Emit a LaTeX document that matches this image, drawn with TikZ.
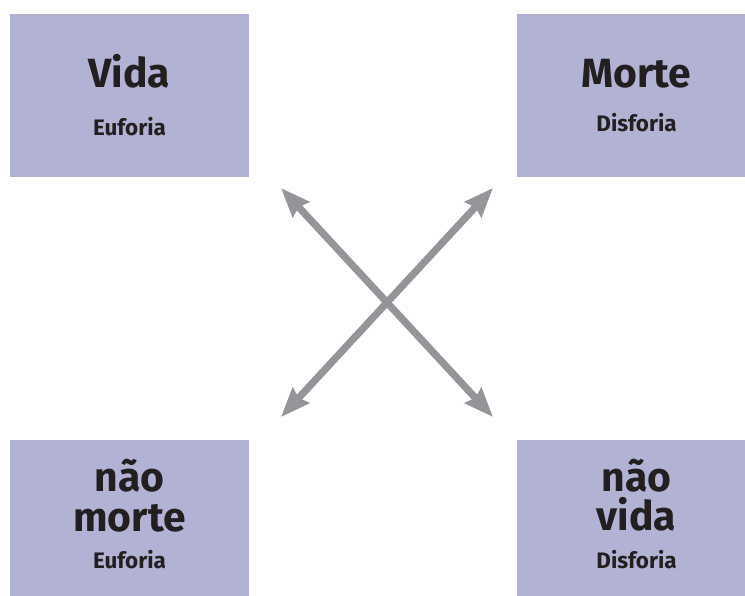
\documentclass[tikz,border=0pt]{standalone}
\usepackage{fontspec}
\setmainfont{Fira Sans}
\usepackage{tikz}
\usetikzlibrary{arrows.meta,positioning}
\definecolor{SqFill}{HTML}{B1B2D4}
\definecolor{SqInk}{HTML}{231F20}
\definecolor{SqArrow}{HTML}{939598}
\tikzset{
  quad/.style={rectangle,fill=SqFill,minimum width=239bp,minimum height=162bp,inner sep=0pt},
  term/.style={anchor=base,inner sep=0pt,text=SqInk,font=\bfseries\fontsize{41}{41}\selectfont},
  mood/.style={anchor=base,inner sep=0pt,text=SqInk,font=\bfseries\fontsize{22.5}{22.5}\selectfont},
  relation/.style={<->,line width=7.2bp,SqArrow}
}

\begin{document}
\begin{tikzpicture}[>={Stealth[length=29bp,width=22bp,inset=3bp]},x=1bp,y=-1bp]
  \useasboundingbox (0,0) rectangle (745,596);
  \clip (0,0) rectangle (745,596);
  \foreach \nm/\x/\y in {vida/129.5/95.5,morte/636.5/95.5,naomorte/129.5/521,naovida/636.5/521}
    \node[quad] (\nm) at (\x,\y) {};
  \node[term] (vidaT) at (129.5,88) {Vida};
  \node[mood] (vidaS) at (129.5,136) {Euforia};
  \node[term] (morteT) at (636.5,88) {Morte};
  \node[mood] (morteS) at (636.5,132) {Disforia};
  \node[term] (naomorteA) at (129.5,491) {não};
  \node[term] (naomorteB) at (129.5,531) {morte};
  \node[mood] (naomorteS) at (129.5,568) {Euforia};
  \node[term] (naovidaA) at (636.5,491) {não};
  \node[term] (naovidaB) at (636.5,530) {vida};
  \node[mood] (naovidaS) at (636.5,568) {Disforia};
  \coordinate (tipNW) at (281,188);
  \coordinate (tipSE) at (493,417);
  \coordinate (tipNE) at (493,188);
  \coordinate (tipSW) at (281,417);
  \draw[relation] (tipNW) -- (tipSE);
  \draw[relation] (tipNE) -- (tipSW);
\end{tikzpicture}
\end{document}
